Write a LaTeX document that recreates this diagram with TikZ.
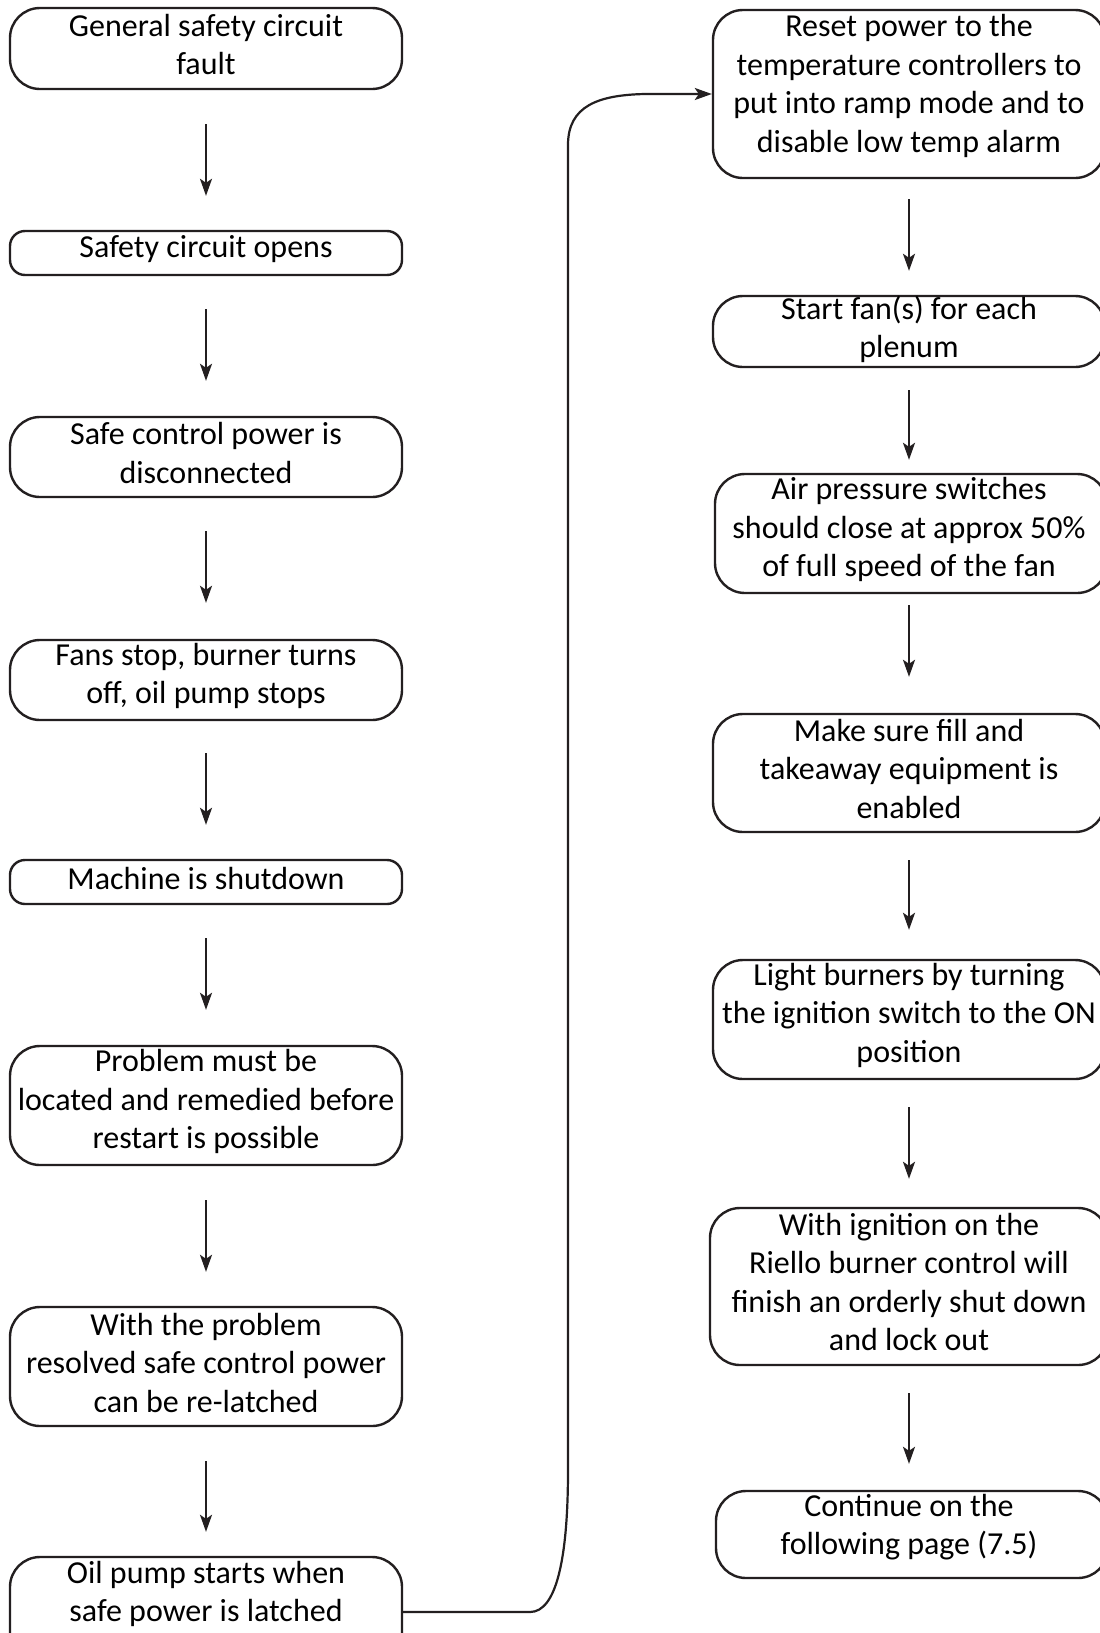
\documentclass[tikz,border=0pt]{standalone}
\usepackage{fontspec}
\setmainfont{Carlito}
\usetikzlibrary{arrows.meta}
\definecolor{ink}{RGB}{35,31,32}
\begin{document}
\begin{tikzpicture}[x=1pt,y=-1pt,
  box/.style={draw=ink, line width=2.4pt, minimum width=392pt, inner sep=0pt, rounded corners=30pt},
  thin box/.style={box, rounded corners=15pt},
  txt/.style={align=center, font=\fontsize{32}{38.5}\selectfont, text=black, inner sep=0pt},
  arr/.style={draw=ink, line width=2pt, -{Stealth[length=17pt,width=12pt,inset=4pt]}},
  link/.style={draw=ink, line width=2.2pt, rounded corners=0pt, -{Stealth[length=17pt,width=12pt,inset=4pt]}}]
\useasboundingbox (0,0) rectangle (1100,1633);
\clip (0,0) rectangle (1100,1633);
\fill[white] (0,0) rectangle (1100,1633);

% ---------- left column ----------
\node[box, minimum height=81pt] (L1) at (206,48.5) {};
\node[txt] (T1) at ([yshift=4pt]L1.center) {General safety circuit\\fault};
\node[thin box, minimum height=44pt] (L2) at (206,253) {};
\node[txt] (T2) at ([yshift=4pt]L2.center) {Safety circuit opens};
\node[box, minimum height=80pt] (L3) at (206,457) {};
\node[txt] (T3) at ([yshift=4pt]L3.center) {Safe control power is\\disconnected};
\node[box, minimum height=80pt] (L4) at (206,680) {};
\node[txt] (T4) at ([yshift=4pt]L4.center) {Fans stop, burner turns\\off, oil pump stops};
\node[thin box, minimum height=44pt] (L5) at (206,882) {};
\node[txt] (T5) at ([yshift=4pt]L5.center) {Machine is shutdown};
\node[box, minimum height=119pt] (L6) at (206,1105.5) {};
\node[txt] (T6) at ([yshift=4pt]L6.center) {Problem must be\\located and remedied before\\restart is possible};
\node[box, minimum height=119pt] (L7) at (206,1366.5) {};
\node[txt] (T7) at ([yshift=4pt]L7.center) {With the problem\\resolved safe control power\\can be re-latched};
\node[box, minimum height=110pt] (L8) at (206,1612) {};
\node[txt] (T8) at (206,1594) {Oil pump starts when\\safe power is latched};

\draw[arr, shorten <=34pt, shorten >=34pt] (L1.south) -- (L2.north);
\draw[arr, shorten <=33pt, shorten >=35pt] (L2.south) -- (L3.north);
\draw[arr, shorten <=33pt, shorten >=36pt] (L3.south) -- (L4.north);
\draw[arr, shorten <=32pt, shorten >=34pt] (L4.south) -- (L5.north);
\draw[arr, shorten <=33pt, shorten >=35pt] (L5.south) -- (L6.north);
\draw[arr, shorten <=34pt, shorten >=34pt] (L6.south) -- (L7.north);
\draw[arr, shorten <=34pt, shorten >=24pt] (L7.south) -- (L8.north);

% ---------- right column ----------
\node[box, minimum height=168pt] (R1) at (909,94) {};
\node[txt] (U1) at (909,86) {Reset power to the\\temperature controllers to\\put into ramp mode and to\\disable low temp alarm};
\node[box, minimum height=71pt] (R2) at (909,331.5) {};
\node[txt] (U2) at ([yshift=2pt]R2.center) {Start fan(s) for each\\plenum};
\node[box, minimum height=119pt] (R3) at (911,533.5) {};
\node[txt] (U3) at (909,529.5) {Air pressure switches\\should close at approx 50\%\\of full speed of the fan};
\node[box, minimum height=118pt] (R4) at (909,773) {};
\node[txt] (U4) at (909,768.5) {Make sure fill and\\takeaway equipment is\\enabled};
\node[box, minimum height=119pt] (R5) at (909,1019.5) {};
\node[txt] (U5) at (909,1015) {Light burners by turning\\the ignition switch to the ON\\position};
\node[box, minimum height=157pt, minimum width=398pt] (R6) at (909,1286.5) {};
\node[txt] (U6) at (909,1282) {With ignition on the\\Riello burner control will\\finish an orderly shut down\\and lock out};
\node[box, minimum height=87pt] (R7) at (912,1534.5) {};
\node[txt] (U7) at (909,1527) {Continue on the\\following page (7.5)};

\draw[arr, shorten <=20pt, shorten >=24pt] (R1.south -| 909,0) -- (R2.north -| 909,0);
\draw[arr, shorten <=22pt, shorten >=13pt] (R2.south -| 909,0) -- (R3.north -| 909,0);
\draw[arr, shorten <=11pt, shorten >=36pt] (R3.south -| 909,0) -- (R4.north -| 909,0);
\draw[arr, shorten <=27pt, shorten >=29pt] (R4.south -| 909,0) -- (R5.north -| 909,0);
\draw[arr, shorten <=27pt, shorten >=28pt] (R5.south -| 909,0) -- (R6.north -| 909,0);
\draw[arr, shorten <=27pt, shorten >=26pt] (R6.south -| 909,0) -- (R7.north -| 909,0);

% ---------- link from bottom-left to top-right ----------
\coordinate (k1) at (530,1612);
\coordinate (k2) at (568,1470);
\coordinate (k3) at (568,145);
\coordinate (k4) at (645,94);
\draw[link] (L8.east) -- (k1) .. controls (556,1612) and (568,1560) .. (k2)
  -- (k3) .. controls (568,106) and (598,95) .. (k4) -- (R1.west);
\end{tikzpicture}
\end{document}
